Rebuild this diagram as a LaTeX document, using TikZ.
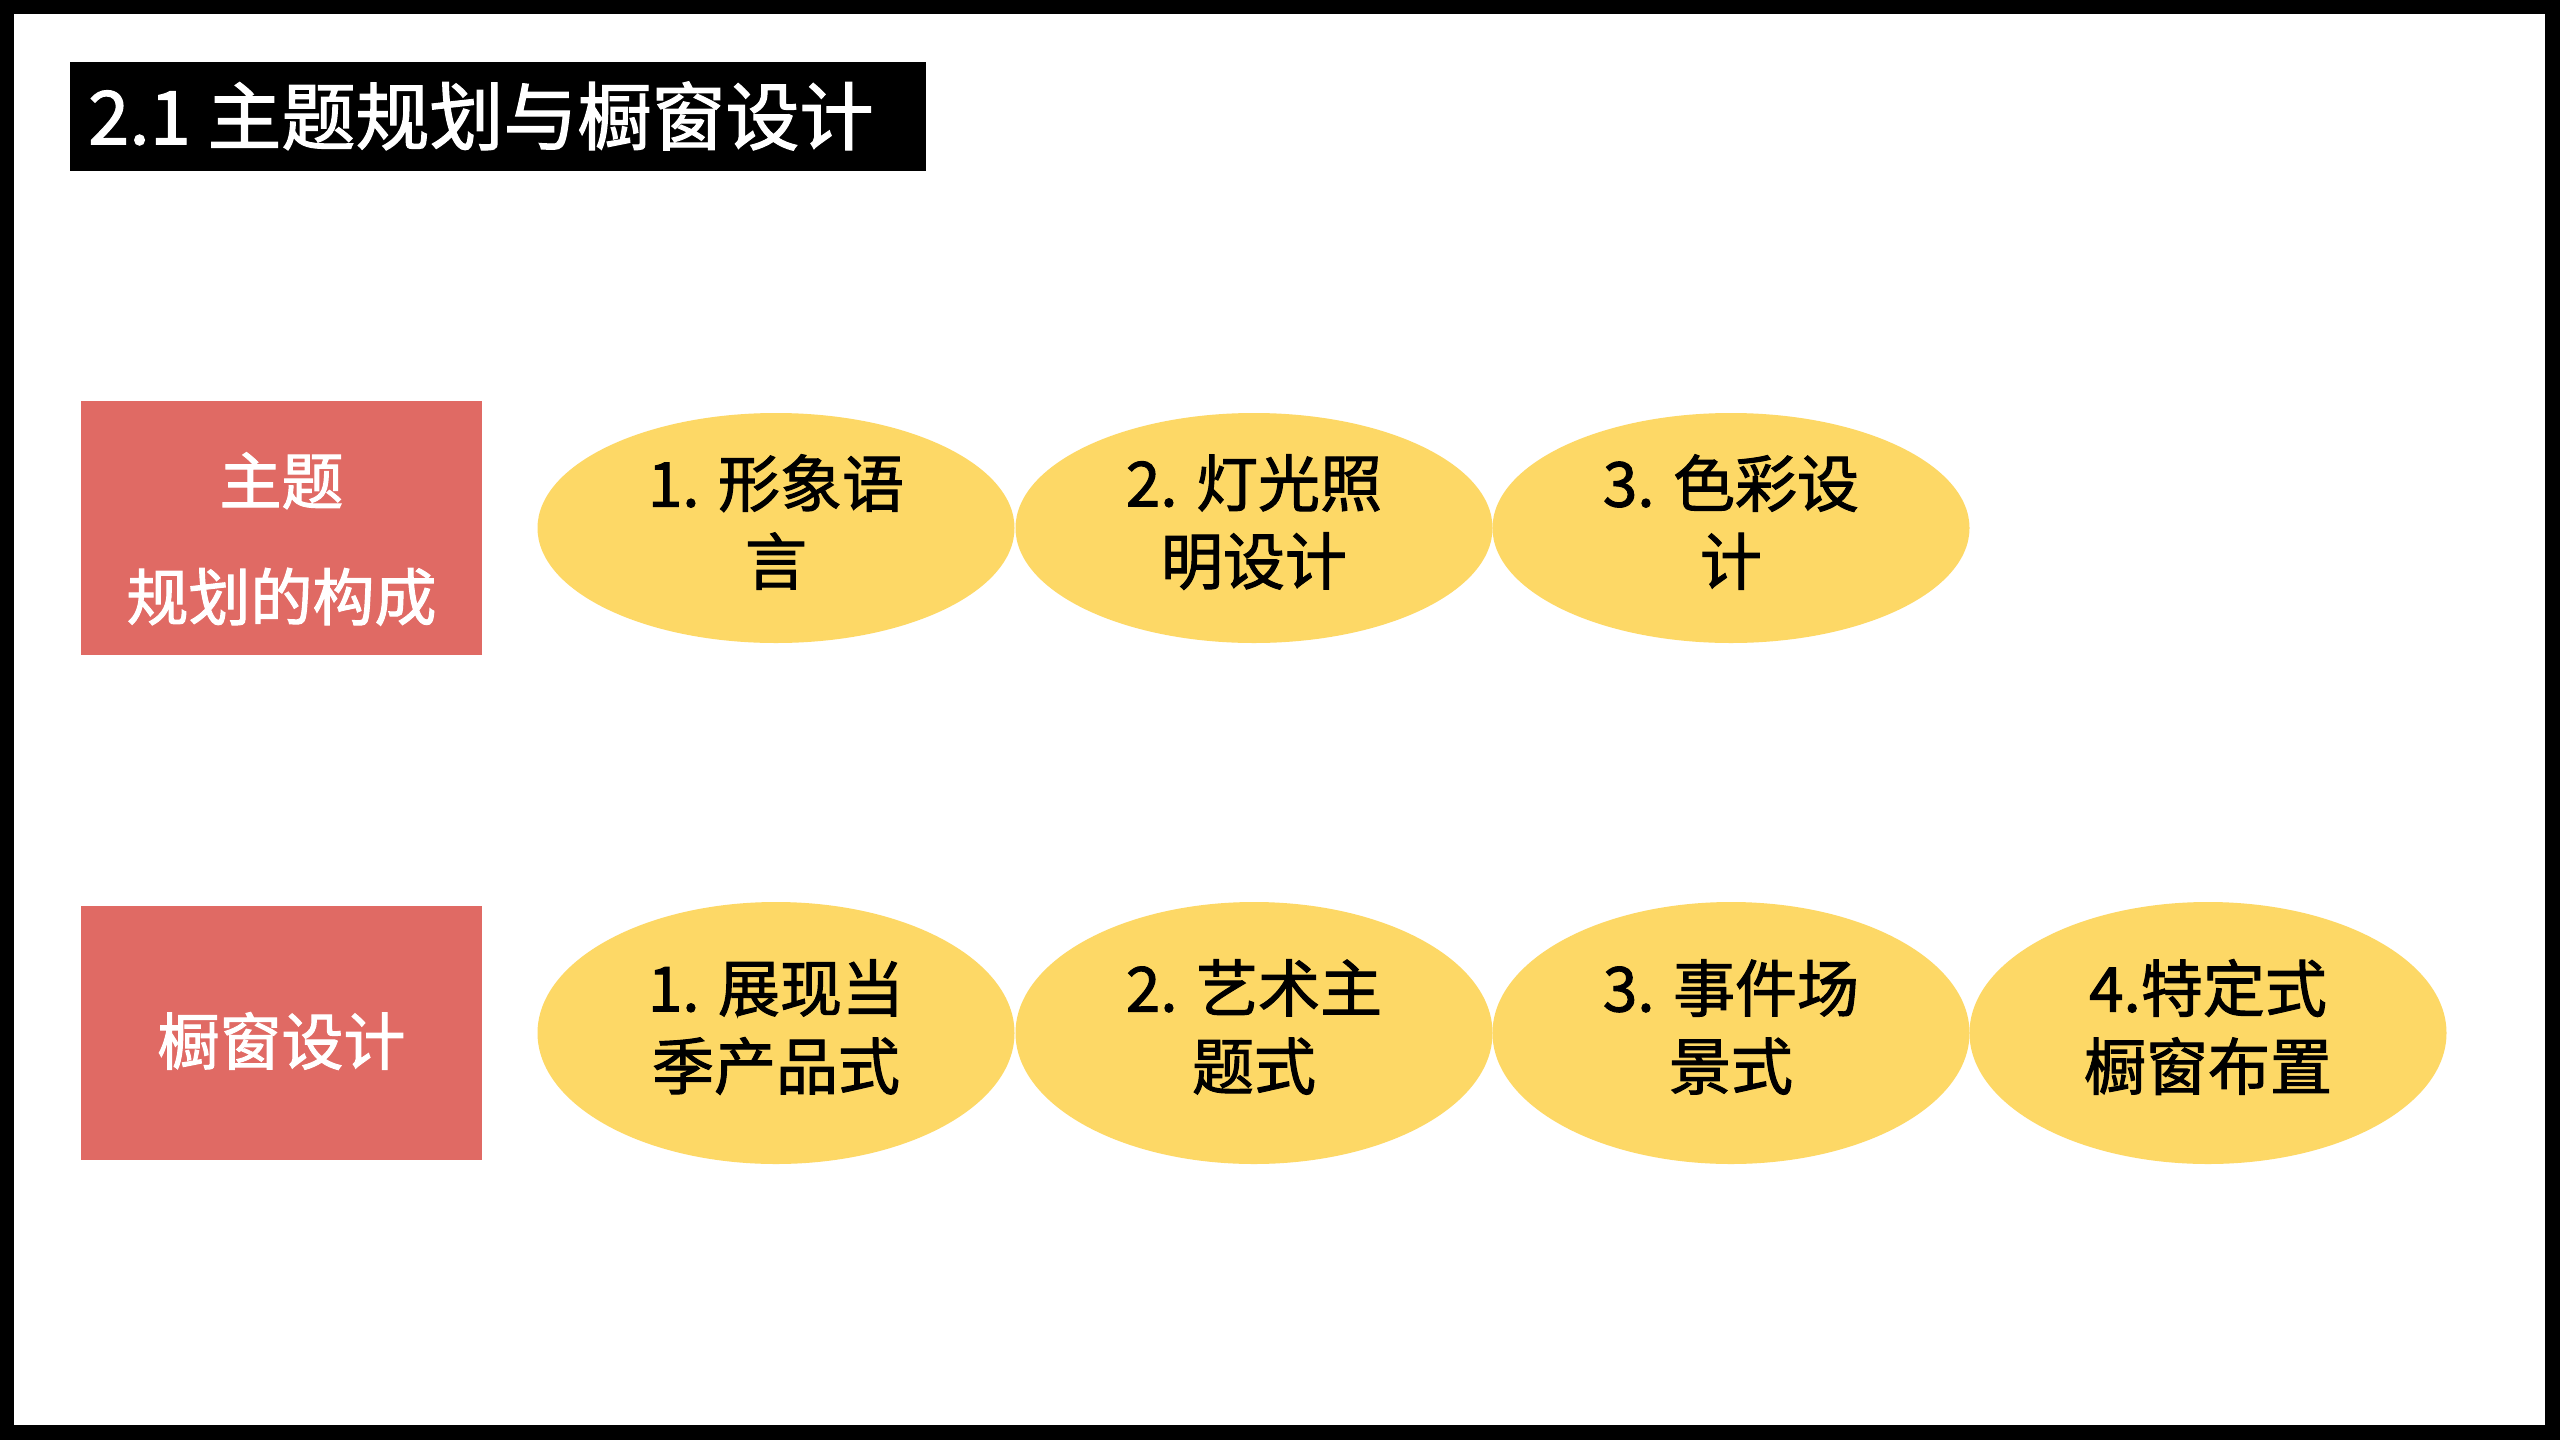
\documentclass[tikz,border=0pt]{standalone}
\usepackage{fontspec}
\setmainfont{Noto Sans CJK SC}
\newfontfamily\medfont{Noto Sans CJK SC}[FakeBold=1.6]
\usetikzlibrary{shapes.geometric}
\definecolor{boxred}{HTML}{E06A64}
\definecolor{ellyellow}{HTML}{FDD866}
\begin{document}
\begin{tikzpicture}[x=1pt,y=-1pt,
  lbl/.style={fill=boxred, minimum width=401pt, minimum height=254pt, inner sep=0pt},
  lbltxt/.style={text=white, inner sep=0pt, align=center, font=\medfont\fontsize{62}{116}\selectfont},
  item/.style={ellipse, fill=ellyellow, inner sep=0pt, minimum width=477pt},
  itemtxt/.style={inner sep=0pt, align=center, font=\medfont\fontsize{62}{78}\selectfont},
  rowa/.style={item, minimum height=230pt},
  rowb/.style={item, minimum height=262pt}]
\useasboundingbox (0,0) rectangle (2560,1440);
\fill[black] (0,0) rectangle (2560,1440);
\fill[white] (14,14) rectangle (2545,1425);
% title
\node[fill=black, minimum width=856pt, minimum height=109pt, inner sep=0pt, anchor=north west] (titlebox) at (70,62) {};
\node[text=white, anchor=west, inner sep=0pt, font=\medfont\fontsize{74}{88}\selectfont] (title) at (88,116) {2.1 主题规划与橱窗设计};
% row labels
\node[lbl] (lab1) at (281.5,528) {};
\node[lbltxt] (lab1t) at ([yshift=-11pt]lab1.center) {主题\\规划的构成};
\node[lbl] (lab2) at (281.5,1033) {};
\node[lbltxt] (lab2t) at ([yshift=-8pt]lab2.center) {橱窗设计};
% row 1
\node[rowa] (a1) at (776,528) {};
\node[rowa] (a2) at (1254,528) {};
\node[rowa] (a3) at (1731,528) {};
\node[itemtxt] (a1t) at ([yshift=6pt]a1.center) {1. 形象语\\言};
\node[itemtxt] (a2t) at ([yshift=6pt]a2.center) {2. 灯光照\\明设计};
\node[itemtxt] (a3t) at ([yshift=6pt]a3.center) {3. 色彩设\\计};
% row 2
\node[rowb] (b1) at (776,1033) {};
\node[rowb] (b2) at (1254,1033) {};
\node[rowb] (b3) at (1731,1033) {};
\node[rowb] (b4) at (2208,1033) {};
\node[itemtxt] (b1t) at ([yshift=6pt]b1.center) {1. 展现当\\季产品式};
\node[itemtxt] (b2t) at ([yshift=6pt]b2.center) {2. 艺术主\\题式};
\node[itemtxt] (b3t) at ([yshift=6pt]b3.center) {3. 事件场\\景式};
\node[itemtxt] (b4t) at ([yshift=6pt]b4.center) {4.特定式\\橱窗布置};
\end{tikzpicture}
\end{document}
